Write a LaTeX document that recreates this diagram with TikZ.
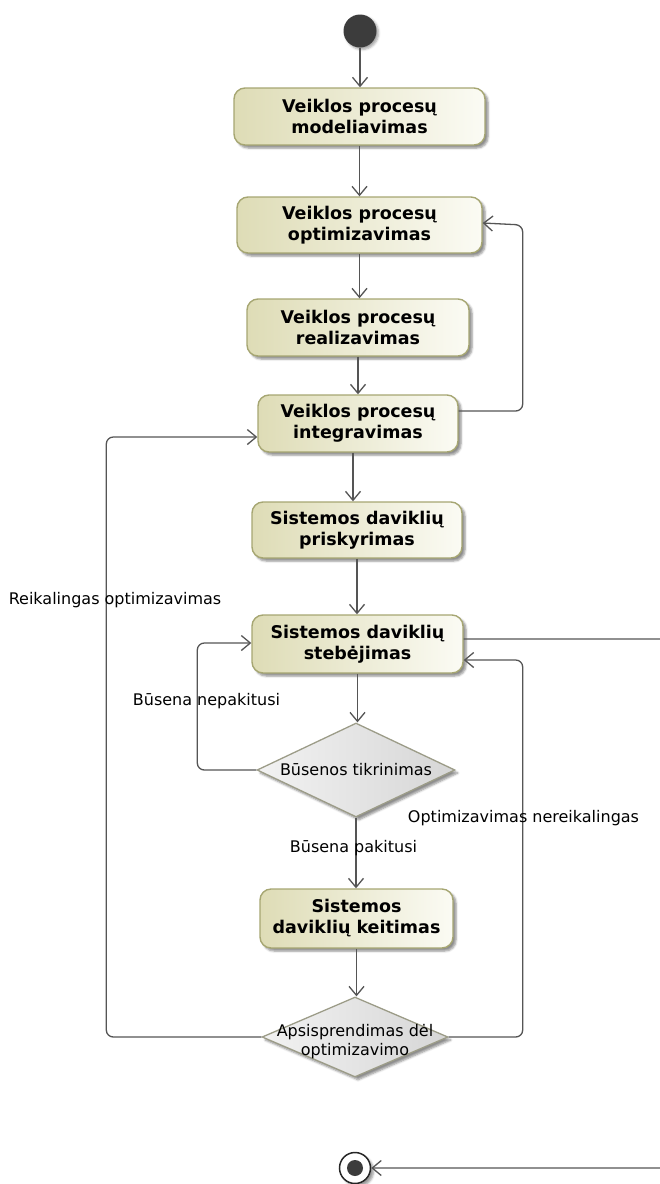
\documentclass[tikz,border=0pt]{standalone}
\usepackage{fontspec}
\setmainfont{DejaVu Sans}
\usetikzlibrary{arrows.meta,shapes.geometric,calc,shadows.blur}

\definecolor{edgecol}{HTML}{555555}
\definecolor{actborder}{HTML}{A6A672}
\definecolor{actdark}{HTML}{DEDCB6}
\definecolor{actlight}{HTML}{FBFBF4}
\definecolor{decborder}{HTML}{9C9C88}
\definecolor{decdark}{HTML}{D6D6D6}
\definecolor{declight}{HTML}{F2F2F2}
\definecolor{dotcol}{HTML}{3C3C3C}

\tikzset{
  act/.style={rectangle, rounded corners=11pt, draw=actborder, line width=1.4pt,
    left color=actdark, right color=actlight, align=center, inner sep=0pt,
    font=\fontsize{17.5}{21}\selectfont\bfseries,
    blur shadow={shadow xshift=3pt, shadow yshift=-3pt, shadow blur steps=5, shadow opacity=45}},
  dec/.style={diamond, draw=decborder, line width=1.3pt, inner sep=0pt,
    left color=declight, right color=decdark,
    blur shadow={shadow xshift=3pt, shadow yshift=-3pt, shadow blur steps=5, shadow opacity=45}},
  dectext/.style={align=center, inner sep=0pt, font=\fontsize{16}{19}\selectfont},
  lbl/.style={inner sep=0pt, font=\fontsize{16}{19}\selectfont},
  flow/.style={draw=edgecol, line width=1.3pt, rounded corners=7pt,
    -{Straight Barb[length=9pt,width=15pt,line width=1.3pt]}},
  initnode/.style={circle, fill=dotcol, minimum size=33pt, inner sep=0pt,
    blur shadow={shadow xshift=2pt, shadow yshift=-2pt, shadow blur steps=4, shadow opacity=35}},
  finalnode/.style={circle, draw=black!85, line width=1.5pt, fill=white, minimum size=31pt, inner sep=0pt,
    blur shadow={shadow xshift=3pt, shadow yshift=-3pt, shadow blur steps=4, shadow opacity=40}},
}

\begin{document}
\begin{tikzpicture}[x=1pt,y=-1pt]
  \useasboundingbox (0,0) rectangle (660,1184);
  \clip (0,0) rectangle (660,1184);

  % start and end
  \node[initnode] (init) at (360,31) {};
  \node[finalnode] (fin) at (355,1168) {};
  \fill[dotcol] (fin.center) circle (8pt);

  % actions
  \node[act, minimum width=251pt, minimum height=57pt] (n1) at (359.5,116.5) {Veiklos procesų\\modeliavimas};
  \node[act, minimum width=245pt, minimum height=56pt] (n2) at (359.5,225) {Veiklos procesų\\optimizavimas};
  \node[act, minimum width=222pt, minimum height=57pt] (n3) at (358,327.5) {Veiklos procesų\\realizavimas};
  \node[act, minimum width=200pt, minimum height=57pt] (n4) at (358,423.5) {Veiklos procesų\\integravimas};
  \node[act, minimum width=210pt, minimum height=56pt] (n5) at (357,530) {Sistemos daviklių\\priskyrimas};
  \node[act, minimum width=211pt, minimum height=58pt] (n6) at (357.5,644) {Sistemos daviklių\\stebėjimas};
  \node[act, minimum width=193pt, minimum height=59pt] (n7) at (356.5,918.5) {Sistemos\\daviklių keitimas};

  % decisions
  \node[dec, minimum width=198pt, minimum height=94pt] (d1) at (356,770) {};
  \node[dectext] (d1t) at (d1.center) {Būsenos tikrinimas};
  \node[dec, minimum width=186pt, minimum height=80pt] (d2) at (355,1037) {};
  \node[dectext] (d2t) at ($(d2.center)+(0,5)$) {Apsisprendimas dėl\\optimizavimo};

  % main flow
  \draw[flow] (init.south) -- (init.south |- n1.north);
  \draw[flow] (n1.south) -- (n1.south |- n2.north);
  \draw[flow] (n2.south) -- (n2.south |- n3.north);
  \draw[flow] (n3.south) -- (n3.south |- n4.north);
  \draw[flow] ([xshift=-5pt]n4.south) -- ([xshift=-5pt]n4.south |- n5.north);
  \draw[flow] (n5.south) -- (n5.south |- n6.north);
  \draw[flow] (n6.south) -- (n6.south |- d1.north);
  \draw[flow] (d1.south) -- (d1.south |- n7.north);
  \draw[flow] (n7.south) -- (n7.south |- d2.north);

  % loops
  \draw[flow] ([yshift=12.5pt]n4.east) -| ($(n2.east)+(40,0)$) -- ([yshift=2pt]n2.east);
  \draw[flow] (d1.west) -| ($(n6.west)+(-54,-1)$) -- ([yshift=1pt]n6.west);
  \draw[flow] (d2.west) -| ($(n4.west)+(-151,13.5)$) -- ([yshift=-13.5pt]n4.west);
  \draw[flow] (d2.east) -| ($(n6.east)+(59,16)$) -- ([yshift=-16pt]n6.east);
  \draw[flow] ([yshift=5pt]n6.east) -- ($(n6.east)+(240,-5)$) |- (fin.east);

  % guard labels
  \node[lbl] (g1) at (115,600) {Reikalingas optimizavimas};
  \node[lbl] (g2) at (206.5,701) {Būsena nepakitusi};
  \node[lbl] (g3) at (353.5,848) {Būsena pakitusi};
  \node[lbl] (g4) at (523.5,818) {Optimizavimas nereikalingas};
\end{tikzpicture}
\end{document}
